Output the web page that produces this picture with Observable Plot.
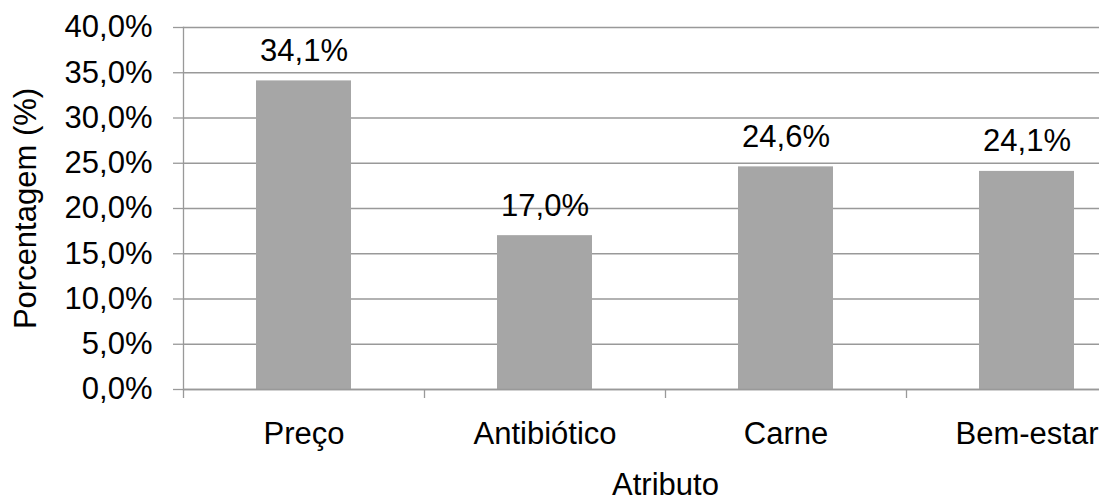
<!DOCTYPE html>
<html>
<head>
<meta charset="utf-8">
<script src="https://cdn.jsdelivr.net/npm/d3@7"></script>
<script src="https://cdn.jsdelivr.net/npm/@observablehq/plot@0.6"></script>
<style>
  html, body { margin: 0; padding: 0; background: #fff; overflow: hidden; }
  #chart svg { display: block; overflow: hidden; }
</style>
</head>
<body>
<div id="chart"></div>
<script>
const categories = ["Preço", "Antibiótico", "Carne", "Bem-estar"];
const values = [34.1, 17.0, 24.6, 24.1];
const yTicks = [0, 5, 10, 15, 20, 25, 30, 35, 40];
const xTitle = "Atributo";
const yTitle = "Porcentagem (%)";

const data = categories.map((c, i) => ({attr: c, value: values[i]}));
const fmt = v => v.toFixed(1).replace(".", ",") + "%";

const W = 1099, H = 503;
const mLeft = 183, mRight = -48, mTop = 27, mBottom = 114;
const step = (W - mRight - mLeft) / categories.length;
const gray = "#999999";

const chart = Plot.plot({
  width: W,
  height: H,
  marginLeft: mLeft,
  marginRight: mRight,
  marginTop: mTop,
  marginBottom: mBottom,
  style: {fontFamily: "'Liberation Sans', Arial, sans-serif", fontSize: "31px", color: "#000", background: "#fff"},
  x: {domain: categories, paddingInner: 0.606, paddingOuter: 0.303, label: null},
  y: {domain: [0, 40], label: null},
  marks: [
    Plot.gridY(yTicks, {stroke: gray, strokeOpacity: 1, strokeWidth: 1.3}),
    Plot.axisY(yTicks, {tickSize: 10, tickPadding: 21, stroke: gray, strokeOpacity: 1, strokeWidth: 1.3, tickFormat: fmt, fill: "#000", fontSize: 31, label: null}),
    Plot.barY(data, {x: "attr", y: "value", fill: "#a6a6a6"}),
    Plot.ruleY([0], {stroke: gray, strokeWidth: 1.3}),
    Plot.frame({anchor: "left", stroke: gray, strokeWidth: 1.3}),
    Plot.ruleX(categories, {x: d => d, y1: 0, y2: 0, insetBottom: -9, dx: -step / 2, stroke: gray, strokeWidth: 1.3}),
    Plot.axisX({tickSize: 0, tickPadding: 32, fill: "#000", fontSize: 31, label: null}),
    Plot.text(data, {x: "attr", y: "value", text: d => fmt(d.value), lineAnchor: "bottom", dy: -20, fill: "#000", fontSize: 31}),
    Plot.text([xTitle], {frameAnchor: "bottom", textAnchor: "middle", lineAnchor: "bottom", dy: 105, fill: "#000", fontSize: 31}),
    Plot.text([yTitle], {frameAnchor: "left", textAnchor: "middle", rotate: -90, lineAnchor: "top", dx: -170, fill: "#000", fontSize: 31})
  ]
});
document.getElementById("chart").append(chart);
</script>
</body>
</html>
